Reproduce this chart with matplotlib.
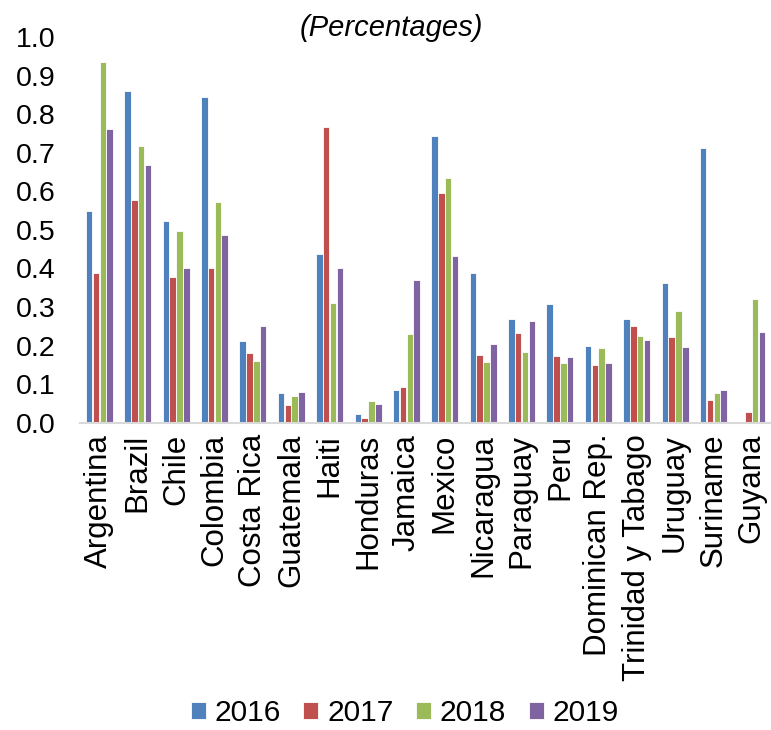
import numpy as np
import matplotlib.pyplot as plt
from matplotlib.ticker import FormatStrFormatter

plt.rcParams['font.family'] = ['Liberation Sans', 'DejaVu Sans']

countries = ["Argentina", "Brazil", "Chile", "Colombia", "Costa Rica", "Guatemala",
             "Haiti", "Honduras", "Jamaica", "Mexico", "Nicaragua", "Paraguay", "Peru",
             "Dominican Rep.", "Trinidad y Tabago", "Uruguay", "Suriname", "Guyana"]
years = ["2016", "2017", "2018", "2019"]

v2016 = [0.548, 0.861, 0.523, 0.845, 0.211, 0.077, 0.437, 0.023, 0.085, 0.743,
         0.388, 0.269, 0.307, 0.200, 0.269, 0.362, 0.713, 0.0]
v2017 = [0.389, 0.578, 0.377, 0.400, 0.180, 0.046, 0.767, 0.013, 0.093, 0.596,
         0.175, 0.232, 0.174, 0.149, 0.252, 0.221, 0.059, 0.028]
v2018 = [0.936, 0.719, 0.497, 0.573, 0.161, 0.068, 0.310, 0.056, 0.231, 0.634,
         0.157, 0.184, 0.156, 0.195, 0.225, 0.289, 0.077, 0.320]
v2019 = [0.761, 0.669, 0.402, 0.486, 0.251, 0.079, 0.402, 0.049, 0.369, 0.432,
         0.203, 0.264, 0.170, 0.155, 0.214, 0.196, 0.084, 0.236]

colors = ["#4F81BD", "#C0504D", "#9BBB59", "#8064A2"]

fig = plt.figure(figsize=(7.71, 7.30), dpi=100)
ax = fig.add_axes([0.104, 0.421, 0.896, 0.528])

x = np.arange(len(countries))
w = 0.17
for i, (vals, yr) in enumerate(zip([v2016, v2017, v2018, v2019], years)):
    ax.bar(x + (i - 1.5) * 0.178, vals, width=w, color=colors[i],
           edgecolor='white', linewidth=0.6, label=yr)

ax.set_xlim(-0.5, len(countries) - 0.5)
ax.set_ylim(0, 1.0)
ax.set_yticks(np.arange(0, 1.01, 0.1))
ax.yaxis.set_major_formatter(FormatStrFormatter('%.1f'))
ax.set_xticks(x)
ax.set_xticklabels(countries, rotation=90, fontsize=22.5)
ax.tick_params(axis='y', length=0, pad=18, labelsize=20.5)
ax.tick_params(axis='x', length=0, pad=8)

for s in ['top', 'right', 'left']:
    ax.spines[s].set_visible(False)
ax.spines['bottom'].set_color('#d9d9d9')
ax.spines['bottom'].set_linewidth(1.5)

fig.text(0.507, 0.962, "(Percentages)", ha='center', va='center',
         fontsize=21, style='italic')

fig.legend(loc='center', bbox_to_anchor=(0.525, 0.023), ncol=4, frameon=False,
           fontsize=21.5, handlelength=0.5, handleheight=0.5, handletextpad=0.3,
           columnspacing=0.75, borderpad=0.1)

fig.savefig("out.png", dpi=100)
